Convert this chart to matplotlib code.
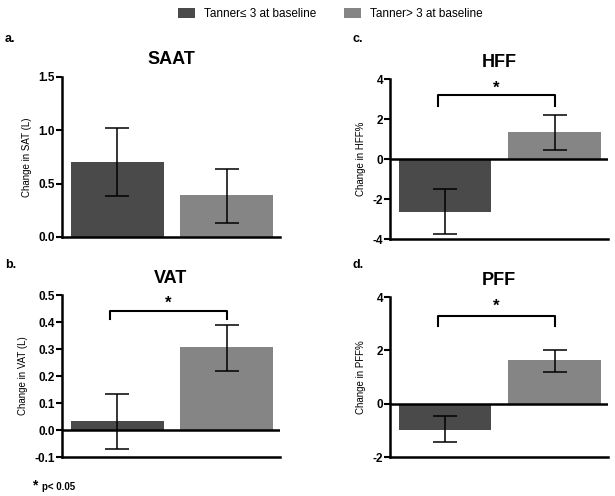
import numpy as np
import matplotlib
matplotlib.use('Agg')
import matplotlib.pyplot as plt
from matplotlib.patches import Patch

plt.rcParams['font.family'] = ['Liberation Sans', 'DejaVu Sans']

groups = ['Tanner\u2264 3 at baseline', 'Tanner> 3 at baseline']
colors = ['#4a4a4a', '#858585']

# mean change and error bar limits
saat = [0.70, 0.39]
saat_lo = [0.38, 0.13]
saat_hi = [1.02, 0.64]

vat = [0.033, 0.307]
vat_lo = [-0.07, 0.22]
vat_hi = [0.133, 0.388]

hff = [-2.65, 1.35]
hff_lo = [-3.75, 0.45]
hff_hi = [-1.5, 2.2]

pff = [-1.0, 1.63]
pff_lo = [-1.45, 1.2]
pff_hi = [-0.45, 2.0]

fig = plt.figure(figsize=(6.15, 4.96), dpi=100)

panels = [
    # letter, title, ylabel, vals, lo, hi, ylim, yticks, fmt, sig, rect
    ('a.', 'SAAT', 'Change in SAT (L)', saat, saat_lo, saat_hi, (0, 1.5),
     [0, 0.5, 1.0, 1.5], '%.1f', None, [0.1008, 0.5222, 0.3545, 0.3226]),
    ('b.', 'VAT', 'Change in VAT (L)', vat, vat_lo, vat_hi, (-0.1, 0.5),
     [-0.1, 0, 0.1, 0.2, 0.3, 0.4, 0.5], '%.1f', (0.44, 0.41, 0.47),
     [0.1008, 0.0786, 0.3545, 0.3266]),
    ('c.', 'HFF', 'Change in HFF%', hff, hff_lo, hff_hi, (-4, 4),
     [-4, -2, 0, 2, 4], '%d', (3.2, 2.65, 3.55),
     [0.634, 0.5181, 0.3545, 0.3226]),
    ('d.', 'PFF', 'Change in PFF%', pff, pff_lo, pff_hi, (-2, 4),
     [-2, 0, 2, 4], '%d', (3.3, 2.9, 3.65),
     [0.634, 0.0786, 0.3545, 0.3226]),
]

x = np.array([0, 1])
width = 0.845

for letter, title, ylab, vals, lo, hi, ylim, yt, fmt, sig, rect in panels:
    ax = fig.add_axes(rect)
    vals = np.array(vals)
    err = np.array([vals - np.array(lo), np.array(hi) - vals])
    ax.bar(x, vals, width=width, color=colors, zorder=1)
    ax.errorbar(x, vals, yerr=err, fmt='none', ecolor='black',
                elinewidth=1.1, capsize=8.5, capthick=1.1, zorder=3)
    ax.set_xlim(-0.505, 1.487)
    ax.set_ylim(*ylim)
    ax.set_yticks(yt)
    ax.yaxis.set_major_formatter(matplotlib.ticker.FormatStrFormatter(fmt))
    for s in ['top', 'right']:
        ax.spines[s].set_visible(False)
    ax.spines['left'].set_linewidth(1.8)
    ax.spines['bottom'].set_linewidth(1.8)
    ax.tick_params(axis='y', length=4, width=1.5, labelsize=8.5, pad=1)
    for t in ax.get_yticklabels():
        t.set_fontweight('bold')
    ax.set_xticks([])
    if ylim[0] < 0:
        ax.axhline(0, color='black', lw=1.8, zorder=2)
    ax.set_ylabel(ylab, fontsize=7, labelpad=5)
    ax.set_title(title, fontsize=13, fontweight='bold', pad=9)
    if sig is not None:
        yb, yl, ys = sig
        xl = x[0] - 0.07
        xr = x[1]
        ax.plot([xl, xl, xr, xr], [yl, yb, yb, yl], color='black', lw=1.5,
                clip_on=False)
        ax.text((xl + xr) / 2, ys, '*', ha='center', va='center',
                fontsize=12, fontweight='bold')

fig.text(0.008, 0.921, 'a.', fontsize=9, fontweight='bold', va='center')
fig.text(0.573, 0.921, 'c.', fontsize=9, fontweight='bold', va='center')
fig.text(0.008, 0.466, 'b.', fontsize=9, fontweight='bold', va='center')
fig.text(0.573, 0.466, 'd.', fontsize=9, fontweight='bold', va='center')

handles = [Patch(facecolor=c, edgecolor='none') for c in colors]
fig.legend(handles, groups, loc='upper center', bbox_to_anchor=(0.537, 1.005),
           ncol=2, frameon=False, fontsize=8.5, handlelength=1.45,
           handleheight=0.85, columnspacing=2.4, handletextpad=0.7)

fig.text(0.052, 0.022, '*', fontsize=10, fontweight='bold', va='center')
fig.text(0.068, 0.018, 'p< 0.05', fontsize=7, fontweight='bold', va='center')

fig.savefig('out.png', dpi=100)
